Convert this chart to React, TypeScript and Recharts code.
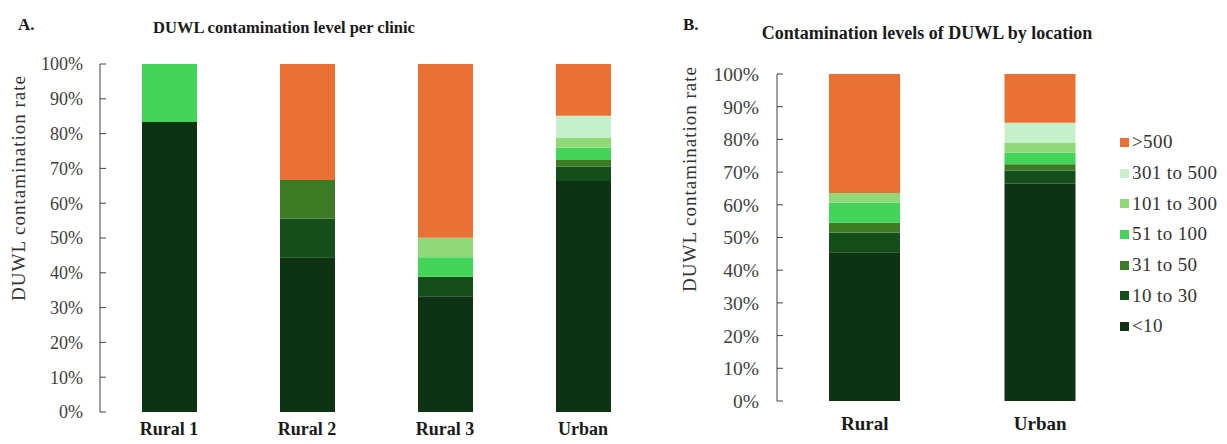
import { BarChart, Bar, XAxis, YAxis } from "recharts";

const clinics = ["Rural 1", "Rural 2", "Rural 3", "Urban"];
const locations = ["Rural", "Urban"];

const levels = ["<10", "10 to 30", "31 to 50", "51 to 100", "101 to 300", "301 to 500", ">500"];
const levelColors = ["#0d3312", "#144f1b", "#3c7a24", "#45d45a", "#8fd979", "#c6f0ca", "#e97133"];

// share of waterlines (%) in each level, one value per clinic
const clinicLt10 = [83.3, 44.4, 33.3, 66.4];
const clinic10to30 = [0, 11.1, 5.6, 4.1];
const clinic31to50 = [0, 11.1, 0, 1.9];
const clinic51to100 = [16.7, 0, 5.6, 3.5];
const clinic101to300 = [0, 0, 5.6, 3.0];
const clinic301to500 = [0, 0, 0, 6.2];
const clinicGt500 = [0, 33.3, 50, 14.9];

// same, per location
const locationLt10 = [45.5, 66.4];
const location10to30 = [6.1, 4.1];
const location31to50 = [3.0, 1.9];
const location51to100 = [6.1, 3.5];
const location101to300 = [3.0, 3.0];
const location301to500 = [0, 6.2];
const locationGt500 = [36.4, 14.9];

const percentTicks = [0, 0.1, 0.2, 0.3, 0.4, 0.5, 0.6, 0.7, 0.8, 0.9, 1];

const clinicSeries = [clinicLt10, clinic10to30, clinic31to50, clinic51to100, clinic101to300, clinic301to500, clinicGt500];
const locationSeries = [locationLt10, location10to30, location31to50, location51to100, location101to300, location301to500, locationGt500];

const FONT = "'Liberation Serif', 'Times New Roman', serif";

function toRows(cats: string[], series: number[][]) {
  return cats.map((name, i) => {
    const row: Record<string, string | number> = { name };
    series.forEach((vals, j) => (row["l" + j] = vals[i]));
    return row;
  });
}

const clinicRows = toRows(clinics, clinicSeries);
const locationRows = toRows(locations, locationSeries);

const fmtPct = (v: number) => `${Math.round(v * 100)}%`;

function LevelLegend() {
  const items = levels.map((l, i) => ({ l, c: levelColors[i] })).reverse();
  return (
    <div style={{ position: "absolute", left: 1120, top: 127, fontFamily: FONT, fontSize: 19, letterSpacing: 0.4, color: "#333" }}>
      {items.map((it) => (
        <div key={it.l} style={{ height: 30.7, display: "flex", alignItems: "center", whiteSpace: "nowrap" }}>
          <span style={{ width: 9, height: 9, background: it.c, display: "inline-block", marginRight: 3 }} />
          <span>{it.l}</span>
        </div>
      ))}
    </div>
  );
}

function Panel({ rows, width, margin, barSize, xTickMargin, tickFont, catFont, yTickMargin }: any) {
  return (
    <BarChart width={width} height={444} data={rows} margin={margin} stackOffset="expand" barSize={barSize}>
      <XAxis
        dataKey="name"
        axisLine={false}
        tickLine={false}
        height={30}
        tickMargin={xTickMargin}
        tick={{ fontFamily: FONT, fontSize: catFont, fontWeight: 700, fill: "#1a1a1a" }}
      />
      <YAxis
        width={60}
        domain={[0, 1]}
        ticks={percentTicks}
        tickFormatter={fmtPct}
        tickSize={-6}
        tickMargin={yTickMargin}
        stroke="#404040"
        tick={{ fontFamily: FONT, fontSize: tickFont, fill: "#404040" }}
      />
      {levels.map((l, i) => (
        <Bar key={l} dataKey={"l" + i} name={l} stackId="a" fill={levelColors[i]} isAnimationActive={false} />
      ))}
    </BarChart>
  );
}

const textBase: React.CSSProperties = { position: "absolute", fontFamily: FONT, color: "#1a1a1a", whiteSpace: "nowrap", lineHeight: "20px" };

export default function App() {
  return (
    <div style={{ position: "absolute", left: 0, top: 0, width: 1227, height: 444, background: "#fff" }}>
      <div style={{ position: "absolute", left: 0, top: 0 }}>
        <Panel
          rows={clinicRows}
          width={660}
          margin={{ top: 64, right: 8, bottom: 2, left: 40 }}
          barSize={55}
          xTickMargin={4}
          tickFont={18}
          catFont={18}
          yTickMargin={23}
        />
      </div>
      <div style={{ position: "absolute", left: 660, top: 0 }}>
        <Panel
          rows={locationRows}
          width={567}
          margin={{ top: 74, right: 99, bottom: 13, left: 57 }}
          barSize={71}
          xTickMargin={10}
          tickFont={19.5}
          catFont={19}
          yTickMargin={24}
        />
      </div>
      <LevelLegend />

      <div style={{ ...textBase, left: 18, top: 15, fontSize: 17, fontWeight: 700 }}>A.</div>
      <div style={{ ...textBase, left: 284, top: 18, fontSize: 16.5, fontWeight: 700, transform: "translateX(-50%)" }}>
        DUWL contamination level per clinic
      </div>
      <div style={{ ...textBase, left: 683, top: 15, fontSize: 17, fontWeight: 700 }}>B.</div>
      <div style={{ ...textBase, left: 927, top: 23, fontSize: 18, fontWeight: 700, transform: "translateX(-50%)" }}>
        Contamination levels of DUWL by location
      </div>

      <div style={{ ...textBase, left: 19, top: 188, fontSize: 19, letterSpacing: 1, color: "#333", transform: "translate(-50%, -50%) rotate(-90deg)" }}>
        DUWL contamination rate
      </div>
      <div style={{ ...textBase, left: 690, top: 179, fontSize: 19, letterSpacing: 1, color: "#333", transform: "translate(-50%, -50%) rotate(-90deg)" }}>
        DUWL contamination rate
      </div>
    </div>
  );
}
